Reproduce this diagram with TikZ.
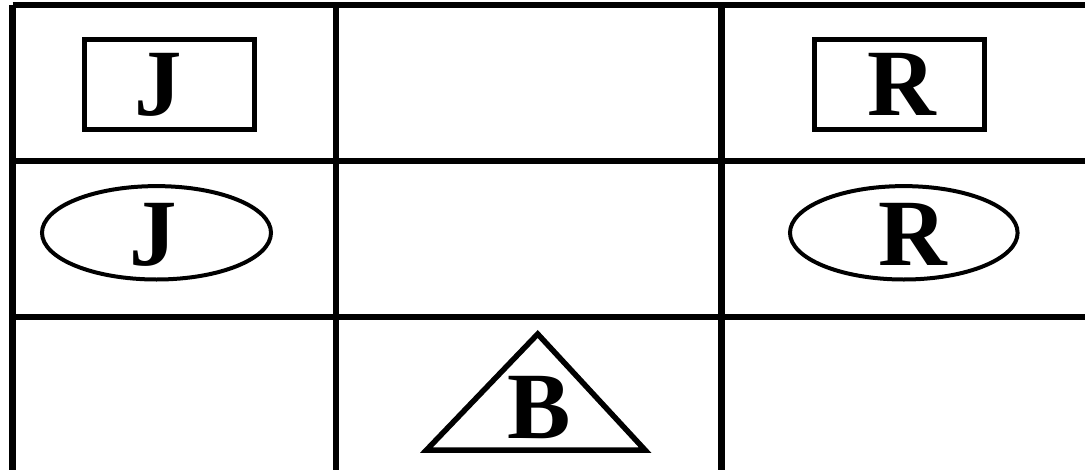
\documentclass[tikz,border=0pt]{standalone}
\usepackage{fontspec}
\setmainfont{Liberation Serif}
\begin{document}
\begin{tikzpicture}[x=1pt,y=-1pt,
  grid/.style={line width=6.5pt},
  box/.style={line width=5pt},
  oval/.style={line width=4pt},
  tri/.style={line width=5.5pt, line join=miter},
  letter/.style={anchor=base, inner sep=0pt, font=\fontsize{95}{100}\selectfont\bfseries}]
\useasboundingbox (0,0) rectangle (1085,469);
\clip (0,0) rectangle (1085,469);
\fill[white] (0,0) rectangle (1085,469);
% grid
\coordinate (g00) at (12.7,5);
\coordinate (g10) at (1100,5);
\coordinate (g01) at (12.7,473);
\coordinate (g11) at (1100,473);
\draw[grid] (g00) -- (g10);
\draw[grid] (12.7,161) -- (1100,161);
\draw[grid] (12.7,317) -- (1100,317);
\draw[grid] (g01) -- (g11);
\draw[grid] (g00) -- (g01);
\draw[grid] (336,5) -- (336,473);
\draw[grid] (721.5,5) -- (721.5,473);
% rectangles
\draw[box] (84,39.8) rectangle (254,129.2);
\draw[box] (814,39.8) rectangle (984,129.2);
% ellipses
\draw[oval] (156.5,232.8) ellipse [x radius=114.5, y radius=46.7];
\draw[oval] (903.8,232.8) ellipse [x radius=113.8, y radius=46.7];
% triangle
\coordinate (ta) at (537.7,334);
\coordinate (tl) at (426.5,450);
\coordinate (tr) at (645,450);
\draw[tri] (ta) -- (tl) -- (tr) -- cycle;
% letters
\node[letter] (j1) at (158,115) {J};
\node[letter] (r1) at (902,115) {R};
\node[letter] (j2) at (153,265) {J};
\node[letter] (r2) at (913,265) {R};
\node[letter] (b) at (539,438) {B};
\end{tikzpicture}
\end{document}
